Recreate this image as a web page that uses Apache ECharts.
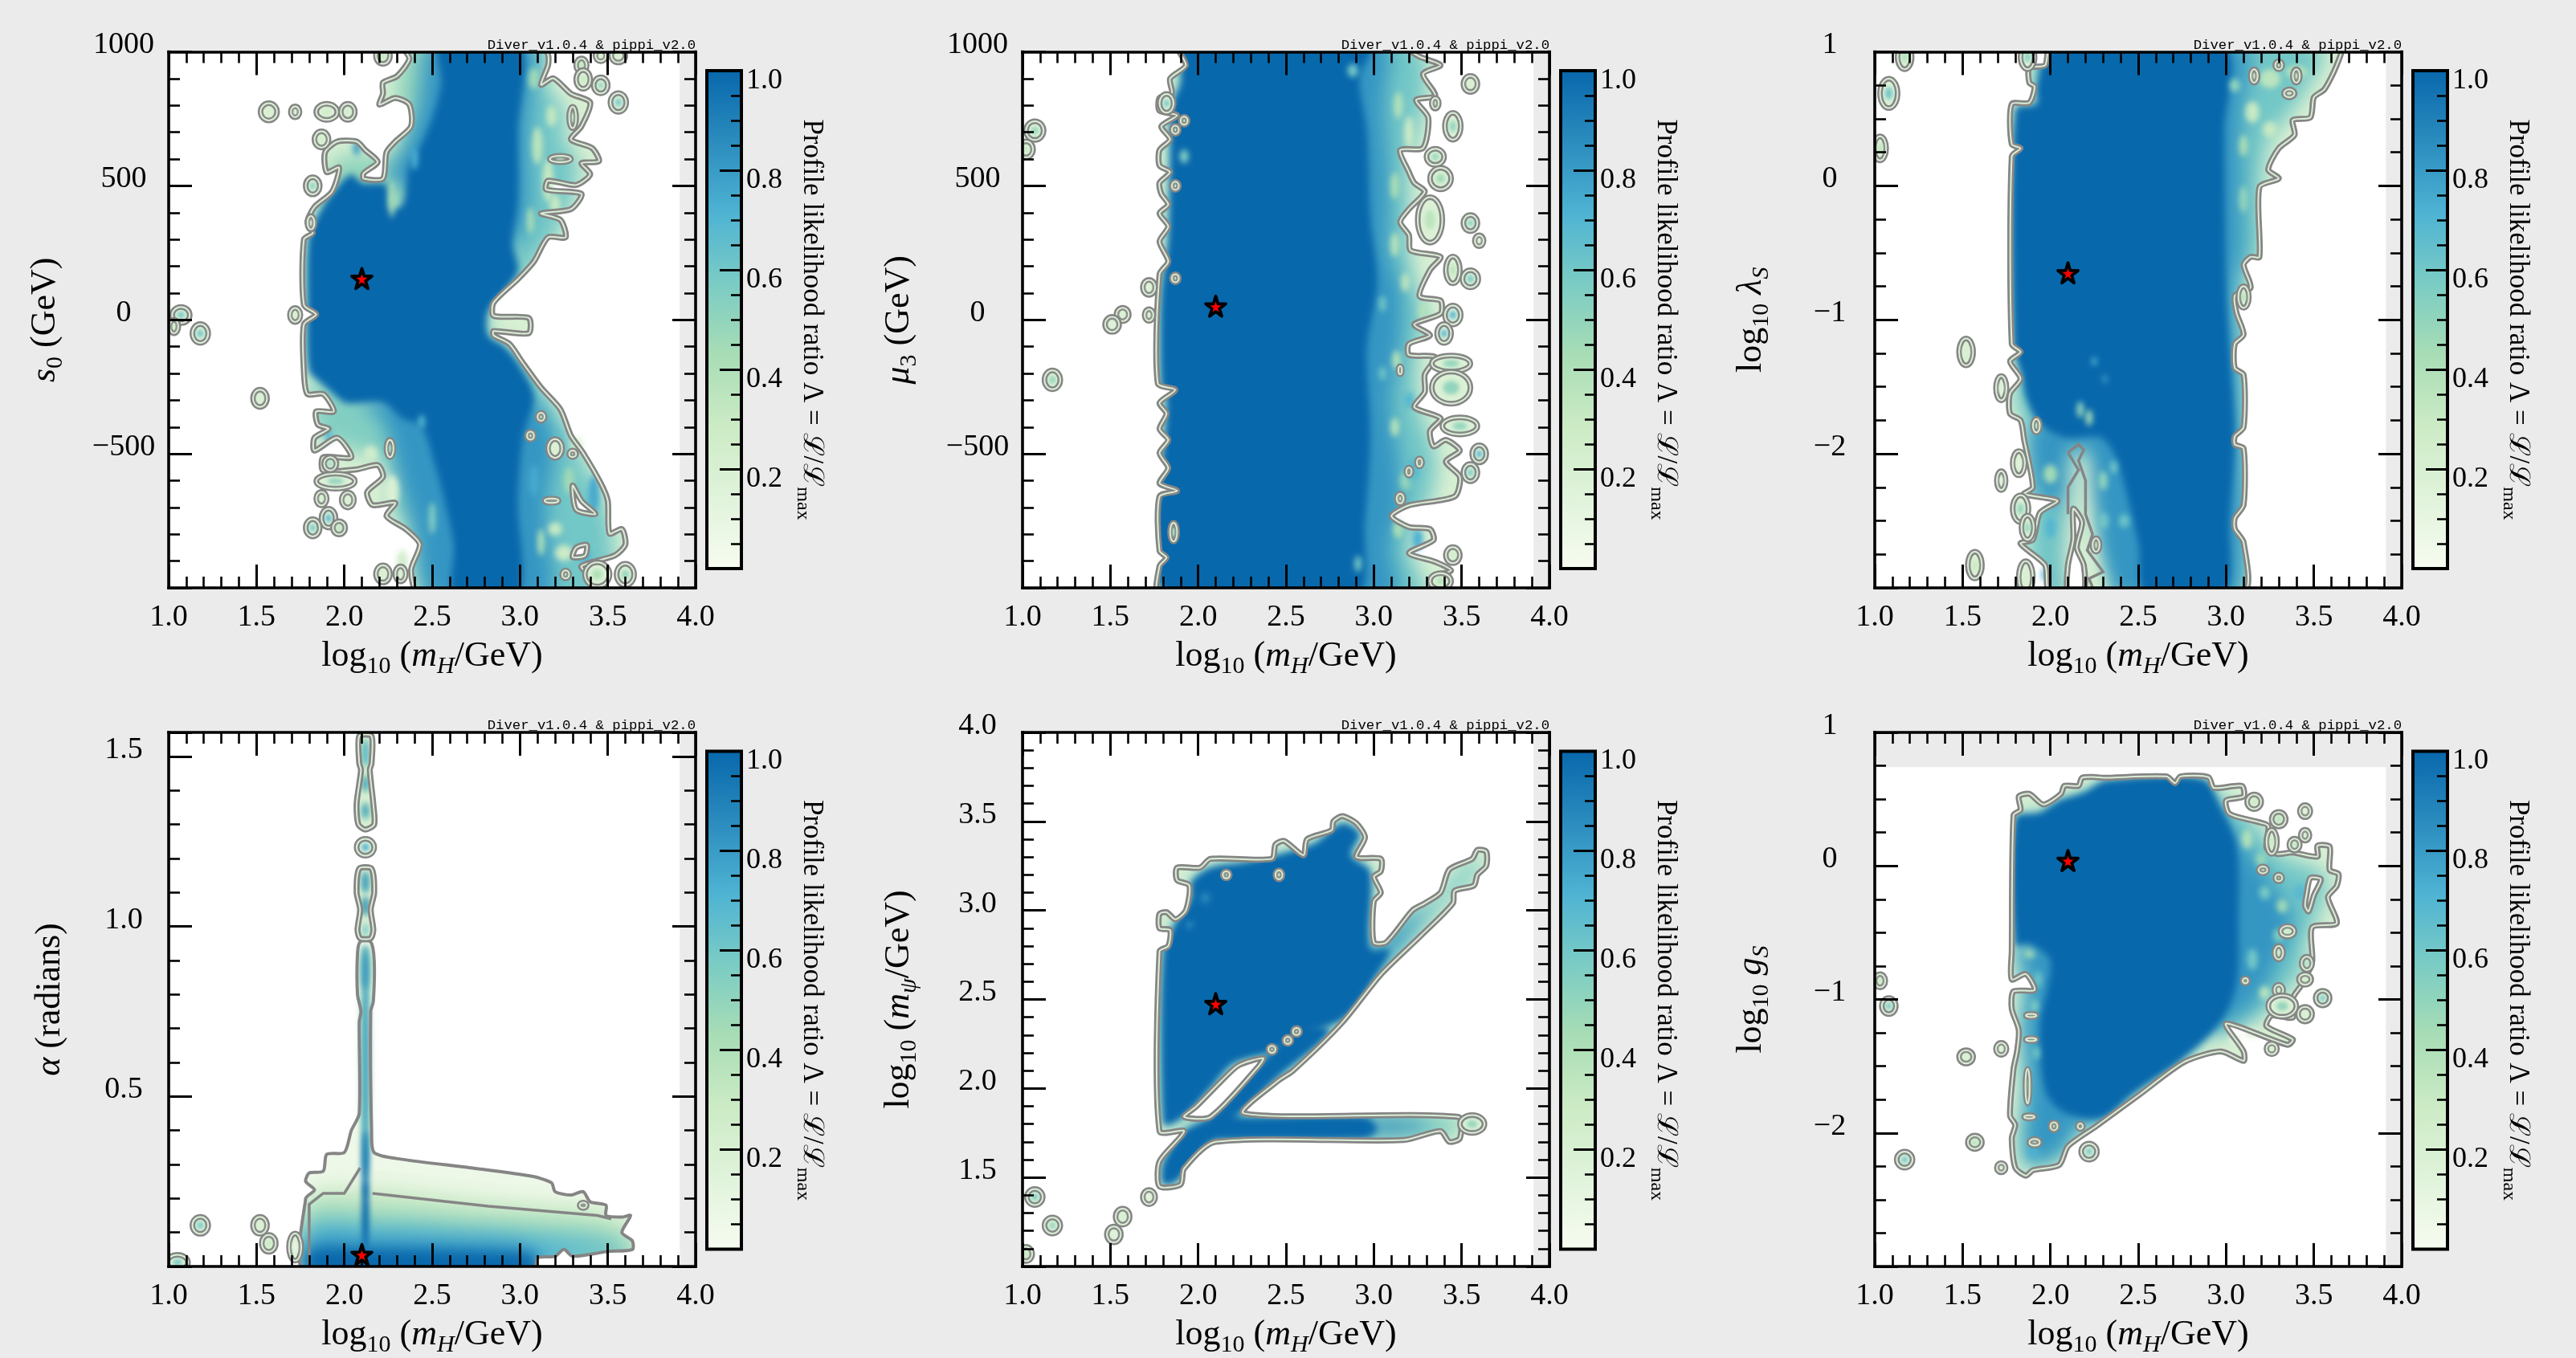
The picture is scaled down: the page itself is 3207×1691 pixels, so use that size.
<!DOCTYPE html>
<html><head><meta charset="utf-8">
<style>html,body{margin:0;padding:0;background:#ebebeb}#c{width:3207px;height:1691px}</style>
<script src="https://cdn.jsdelivr.net/npm/echarts@6/dist/echarts.min.js"></script>
</head><body><div id="c"></div>
<script>
const gnbu=['#f7fcf0','#e0f3db','#ccebc5','#a8ddb5','#7bccc4','#4eb3d3','#2b8cbe','#0868ac'];
const xTickLabels=['1.0','1.5','2.0','2.5','3.0','3.5','4.0'];
const barTickLabels=['','0.2','0.4','0.6','0.8','1.0'];
const watermark='Diver_v1.0.4 & pippi_v2.0';
const barTitle='Profile likelihood ratio Λ = ℒ/ℒ{sub|max}';
const xTitle='log{sub|10} ({i|m}{isub|H}/GeV)';

/* ---------- s0 ---------- */
const s0Best=[2.10,154];
const s0Ticks=['','−500','0','500','1000'];
const s0Outer=[[[2.33,1030],[2.37,974],[2.30,909],[2.22,885],[2.22,844],[2.20,803],[2.29,828],[2.37,803],[2.38,722],[2.29,665],[2.24,625],[2.22,527],[2.11,527],[2.11,547],[2.19,589],[2.12,633],[2.07,665],[1.96,665],[1.89,625],[1.90,551],[1.97,568],[1.93,478],[1.83,421],[1.79,365],[1.82,324],[1.77,300],[1.77,56],[1.84,20],[1.77,-17],[1.77,-196],[1.79,-277],[1.88,-277],[1.94,-342],[1.84,-342],[1.85,-391],[1.91,-407],[1.83,-440],[1.83,-488],[1.96,-440],[2.04,-513],[1.88,-513],[1.88,-562],[2.07,-558],[2.19,-542],[2.22,-586],[2.13,-643],[2.16,-691],[2.29,-683],[2.24,-732],[2.35,-781],[2.43,-838],[2.38,-935],[2.43,-1030],[3.40,-1030],[3.40,-960],[3.35,-919],[3.54,-879],[3.60,-838],[3.58,-781],[3.51,-797],[3.50,-675],[3.46,-610],[3.36,-497],[3.29,-432],[3.23,-334],[3.12,-253],[3.01,-155],[2.94,-90],[2.85,-58],[2.85,-42],[3.05,-50],[3.05,7],[2.85,15],[2.85,64],[2.99,153],[3.08,218],[3.16,308],[3.26,308],[3.23,373],[3.12,397],[3.29,413],[3.35,470],[3.15,486],[3.16,519],[3.32,503],[3.40,543],[3.35,584],[3.45,592],[3.41,641],[3.29,673],[3.35,722],[3.40,811],[3.29,844],[3.19,901],[3.12,877],[3.16,950],[3.16,990],[3.12,1030]]];
const s0Soft=[
[0.5,[[2.55,1030],[2.38,1030],[2.3,900],[2.3,800],[2.36,750],[2.28,620],[2.1,620],[1.95,600],[1.85,420],[2.3,400],[2.6,600]]],
[0.55,[[1.8,-250],[1.85,-420],[2.0,-480],[2.2,-520],[2.3,-620],[2.25,-680],[2.36,-780],[2.45,-1030],[2.7,-1030],[2.6,-400],[2.2,-280]]],
[0.6,[[3.0,1030],[3.14,1030],[3.14,880],[3.24,800],[3.26,650],[3.32,620],[3.32,500],[3.22,330],[3.1,220],[3.0,150],[2.92,150],[2.92,700]]],
[0.6,[[2.95,-100],[3.2,-330],[3.42,-600],[3.52,-780],[3.5,-1030],[2.95,-1030]]],
[0.82,[[2.47,1030],[2.42,800],[2.34,650],[2.25,520],[2.6,500],[2.6,1030]]],
[0.82,[[2.1,-300],[2.22,-380],[2.32,-620],[2.4,-800],[2.47,-1030],[2.7,-1030],[2.6,-400],[2.4,-300]]],
[0.82,[[2.95,-1030],[3.18,-1030],[3.15,-700],[3.2,-450],[3.08,-300],[2.95,-300]]],
[0.82,[[2.95,1030],[3.08,1030],[3.05,700],[3.05,400],[3.0,300],[2.9,300],[2.9,1030]]],
[1,[[2.54,1030],[2.55,885],[2.51,771],[2.44,657],[2.37,576],[2.33,430],[2.26,413],[2.24,503],[2.10,511],[2.04,543],[1.96,495],[1.87,413],[1.80,308],[1.79,56],[1.80,-188],[1.87,-237],[1.94,-277],[2.01,-310],[2.22,-310],[2.33,-367],[2.44,-399],[2.51,-529],[2.57,-675],[2.62,-838],[2.63,-1030],[2.99,-1030],[2.99,-675],[3.02,-432],[3.08,-285],[2.99,-163],[2.91,-98],[2.82,-58],[2.82,32],[2.93,121],[2.99,186],[2.96,283],[2.99,446],[2.99,706],[3.0,1030]]]];
const s0Spots=[[3.10,650,.03,70,.35],[3.16,520,.03,80,.3],[3.06,370,.02,50,.42],[3.2,430,.03,40,.3],[3.18,760,.03,40,.32],[3.08,900,.03,40,.45],[3.2,-780,.04,25,.3],[3.25,-870,.05,30,.28],[3.12,-830,.02,50,.4],[2.27,-640,.04,60,.18],[2.15,-500,.04,30,.25],[2.33,-900,.03,40,.25],[2.5,-740,.02,60,.55],[3.42,-650,.03,70,.75],[3.37,-880,.03,30,.72],[3.22,-470,.02,60,.65],[3.08,-600,.03,60,.75],[2.27,450,.015,70,.4],[2.44,-380,.02,25,.7],[2.4,600,.02,40,.72],[2.07,640,.02,25,.8],[3.28,-600,.03,50,.45],[1.91,-430,.02,30,.7],[3.32,-470,.03,30,.28]];
const s0Holes=[[[3.30,-618],[3.35,-675],[3.43,-724],[3.32,-708]],[[3.32,-850],[3.38,-840],[3.37,-880],[3.30,-885]]];
const s0Loops=[[1.57,776,.047,32,.2],[1.72,776,.025,20,.2],[1.90,776,.06,30,.25],[2.02,776,.04,30,.25],[1.87,673,.04,30,.25],[1.82,500,.04,32,.55],[1.81,362,.02,25,.2],[1.72,18,.03,26,.2],[1.07,18,.05,30,.6],[1.03,-25,.025,25,.3],[1.18,-51,.045,35,.6],[1.52,-293,.04,32,.2],[2.22,985,.04,30,.35],[3.56,811,.045,35,.6],[3.56,985,.04,25,.2],[3.46,985,.03,20,.2],[3.35,950,.03,25,.4],[3.46,875,.04,30,.5],[3.36,897,.04,35,.3],[2.26,-480,.02,32,.5],[1.91,-740,.04,35,.7],[1.82,-776,.04,32,.6],[1.97,-776,.035,25,.4],[1.87,-667,.03,25,.2],[2.02,-672,.035,28,.2],[1.95,-602,.11,28,.5],[1.92,-537,.035,25,.5],[2.22,-948,.04,32,.2],[2.32,-948,.03,28,.2],[3.44,-950,.07,45,.4],[3.60,-950,.05,40,.5],[3.26,-950,.02,15,.35],[3.12,-362,.02,15,.3],[3.06,-432,.02,15,.3],[3.2,-480,.04,35,.2],[3.3,-500,.02,12,.3],[3.18,-675,.04,8,.3],[3.23,600,.06,12,.4],[3.3,755,.02,40,.4]];

/* ---------- mu3 ---------- */
const muBest=[2.10,51];
const muTicks=['','−500','0','500','1000'];
const muOuter=[[[1.88,1030],[1.93,950],[1.84,900],[1.85,844],[1.78,828],[1.78,780],[1.88,763],[1.79,722],[1.84,673],[1.78,633],[1.78,576],[1.84,551],[1.78,511],[1.79,470],[1.83,430],[1.78,397],[1.83,348],[1.78,292],[1.83,218],[1.78,170],[1.77,-237],[1.87,-261],[1.78,-310],[1.82,-350],[1.78,-407],[1.83,-448],[1.78,-497],[1.83,-553],[1.78,-610],[1.88,-638],[1.78,-659],[1.78,-862],[1.82,-887],[1.78,-919],[1.78,-1030],[3.38,-1030],[3.35,-960],[3.44,-935],[3.35,-903],[3.2,-870],[3.34,-822],[3.32,-781],[3.2,-773],[3.1,-732],[3.2,-692],[3.46,-659],[3.49,-586],[3.41,-529],[3.49,-488],[3.41,-448],[3.34,-472],[3.32,-415],[3.38,-367],[3.23,-326],[3.29,-269],[3.29,-204],[3.35,-139],[3.2,-131],[3.2,-90],[3.32,-58],[3.23,-17],[3.38,23],[3.38,72],[3.26,88],[3.32,186],[3.38,235],[3.21,259],[3.2,316],[3.15,365],[3.2,413],[3.29,478],[3.23,511],[3.2,551],[3.15,633],[3.28,641],[3.31,755],[3.24,820],[3.35,836],[3.28,917],[3.38,950],[3.26,982],[3.12,1030]]];
const muSoft=[
[0.6,[[2.85,1030],[3.25,1030],[3.3,900],[3.25,700],[3.2,600],[3.2,400],[3.2,250],[3.25,100],[3.3,0],[3.25,-100],[3.25,-300],[3.35,-500],[3.35,-600],[3.3,-700],[3.2,-850],[3.3,-1030],[2.85,-1030]]],
[0.82,[[2.85,1030],[3.08,1030],[3.06,800],[3.09,500],[3.09,250],[3.16,100],[3.15,-100],[3.1,-300],[3.14,-500],[3.16,-700],[3.1,-850],[3.14,-1030],[2.85,-1030]]],
[1,[[1.92,1030],[1.90,885],[1.85,800],[1.84,600],[1.83,300],[1.79,100],[1.79,-250],[1.82,-300],[1.82,-1030],[2.9,-1030],[2.95,-757],[2.98,-432],[2.96,-105],[3.02,137],[2.98,381],[2.96,706],[2.92,900],[2.98,1030]]]];
const muSpots=[[3.14,800,.025,50,.38],[3.2,700,.025,60,.28],[3.12,500,.025,50,.42],[3.12,280,.025,45,.38],[3.18,140,.025,35,.35],[3.28,30,.025,35,.38],[3.13,-150,.025,35,.38],[3.12,-400,.025,35,.38],[3.18,-600,.03,35,.48],[3.22,-560,.04,40,.68],[3.14,-780,.03,35,.42],[3.25,-820,.03,40,.72],[2.88,930,.03,25,.6],[1.92,610,.025,25,.55],[3.05,-200,.02,25,.6],[3.2,-300,.03,30,.68],[2.91,-910,.02,30,.6],[3.05,60,.02,30,.6]];
const muHoles=[];
const muLoops=[[1.82,808,.04,35,.6],[1.92,743,.02,15,.4],[1.87,709,.02,15,.35],[1.87,500,.02,15,.35],[1.87,155,.02,15,.35],[1.86,-792,.02,35,.5],[1.07,706,.05,35,.5],[1.02,636,.04,30,.3],[1.72,121,.035,28,.15],[1.72,18,.025,22,.15],[1.57,20,.035,25,.2],[1.51,-17,.04,28,.15],[1.17,-224,.045,35,.5],[3.55,880,.04,30,.2],[3.35,808,.02,20,.35],[3.45,722,.045,50,.5],[3.35,608,.05,30,.5],[3.38,527,.06,40,.45],[3.32,373,.07,85,.35],[3.55,361,.04,30,.55],[3.6,295,.025,20,.1],[3.45,186,.04,50,.35],[3.55,153,.045,32,.6],[3.45,18,.045,35,.7],[3.4,-51,.04,35,.7],[3.44,-163,.11,30,.5],[3.44,-253,.11,60,.5],[3.49,-396,.1,32,.5],[3.6,-500,.04,32,.7],[3.55,-570,.04,32,.6],[3.45,-878,.04,30,.25],[3.38,-975,.06,30,.4],[3.15,-188,.01,15,.3],[3.2,-566,.015,15,.3],[3.26,-532,.015,15,.3],[3.15,-667,.02,18,.3]];

/* ---------- lambda_S ---------- */
const laBest=[2.10,-0.65];
const laTicks=['','−2','−1','0','1'];
const laOuter=[[[2.0,1.03],[1.97,.9],[1.88,.88],[1.88,.77],[1.91,.74],[1.88,.62],[1.78,.61],[1.78,.31],[1.83,.28],[1.78,.22],[1.78,-1.18],[1.83,-1.24],[1.77,-1.31],[1.83,-1.44],[1.77,-1.55],[1.77,-1.70],[1.83,-1.75],[1.85,-1.89],[1.9,-2.25],[1.85,-2.30],[2.04,-2.35],[1.94,-2.44],[1.9,-2.64],[1.83,-2.67],[1.97,-2.83],[2.0,-3.03],[3.1,-3.03],[3.1,-2.66],[3.05,-2.56],[3.05,-2.48],[3.1,-2.38],[3.1,-1.96],[3.05,-1.93],[3.05,-1.87],[3.1,-1.8],[3.1,-1.41],[3.05,-1.36],[3.05,-1.18],[3.1,-1.11],[3.06,-.95],[3.05,-.82],[3.14,-.76],[3.1,-.59],[3.14,-.53],[3.19,-.53],[3.19,-.01],[3.3,.055],[3.24,.12],[3.3,.28],[3.39,.38],[3.38,.49],[3.48,.51],[3.5,.66],[3.56,.72],[3.63,.9],[3.65,1.03]]];
const laSoft=[
[0.6,[[2.85,1.03],[3.55,1.03],[3.4,.6],[3.25,.35],[3.2,0],[3.2,-.5],[3.1,-.7],[3.1,-1.5],[3.1,-3.03],[2.85,-3.03]]],
[0.6,[[1.8,-1.5],[1.88,-1.9],[1.9,-3.03],[2.1,-3.03],[2.12,-2.2],[2.2,-2.0],[2.3,-2.0],[2.35,-3.03],[2.7,-3.03],[2.6,-1.8],[2.0,-1.5]]],
[0.6,[[1.9,.95],[1.93,.75],[2.05,.75],[2.05,1.03],[1.98,1.03]]],
[0.82,[[2.85,1.03],[3.12,1.03],[3.09,.5],[3.09,0],[3.09,-.5],[3.04,-.8],[3.07,-1.5],[3.08,-3.03],[2.85,-3.03]]],
[0.82,[[1.88,-1.85],[1.93,-2.3],[2.05,-2.4],[2.08,-2.8],[2.05,-3.03],[2.1,-3.03],[2.12,-2.0],[2.2,-1.95],[2.25,-2.4],[2.36,-3.03],[2.6,-3.03],[2.5,-1.8],[1.95,-1.75]]],
[0.2,[[2.13,-1.98],[2.18,-2.0],[2.16,-2.3],[2.2,-2.6],[2.28,-2.9],[2.3,-3.03],[2.1,-3.03],[2.1,-2.4],[2.12,-2.2]]],
[1,[[2.01,1.03],[1.92,.74],[1.92,.61],[1.80,.57],[1.79,-1.18],[1.84,-1.44],[1.85,-1.54],[1.9,-1.7],[1.97,-1.81],[2.1,-1.88],[2.29,-1.88],[2.38,-2.05],[2.5,-2.67],[2.54,-3.03],[2.99,-3.03],[3.02,-2.51],[3.05,-1.86],[3.02,-1.21],[3.0,-.72],[2.99,.41],[2.99,1.03]]]];
const laSpots=[[3.15,.55,.04,.08,.3],[3.25,.42,.04,.06,.3],[3.1,.3,.025,.08,.42],[3.05,.75,.03,.05,.5],[3.25,.8,.06,.07,.35],[3.4,.85,.06,.05,.38],[3.1,-.1,.025,.1,.5],[2.25,-1.31,.015,.03,.7],[2.31,-1.44,.012,.03,.75],[2.17,-1.67,.02,.06,.5],[2.22,-1.73,.02,.06,.45],[2.3,-2.2,.025,.07,.5],[2.36,-2.1,.02,.05,.6],[2.0,-2.15,.04,.07,.45],[2.3,-2.5,.03,.06,.6],[2.42,-2.5,.03,.05,.62],[2.0,-2.55,.03,.08,.7],[1.97,-2.9,.02,.05,.7]];
const laHoles=[[[2.13,-2.41],[2.18,-2.51],[2.15,-2.70],[2.19,-2.83],[2.19,-3.03],[2.1,-3.03],[2.1,-2.83],[2.13,-2.64]]];
const laLoops=[[1.17,.96,.04,.09,.4],[1.08,.69,.05,.11,.6],[1.03,.28,.035,.09,.35],[1.87,.96,.04,.09,.55],[1.52,-1.24,.04,.1,.2],[1.72,-1.51,.03,.09,.15],[1.82,-2.07,.035,.09,.15],[1.72,-2.2,.025,.07,.1],[1.83,-2.41,.045,.1,.5],[1.87,-2.55,.035,.09,.5],[1.57,-2.83,.04,.1,.3],[1.86,-2.92,.04,.12,.2],[3.1,-.83,.03,.08,.4],[2.26,-2.68,.02,.05,.3],[1.92,-1.79,.02,.05,.4],[3.16,.82,.02,.05,.3],[3.4,.82,.02,.05,.3],[3.36,.69,.03,.03,.3],[3.3,.9,.02,.03,.3]];
const laExtra=[[[2.1,-1.99],[2.16,-1.93],[2.19,-1.97],[2.16,-2.05],[2.2,-2.2],[2.2,-2.45],[2.24,-2.6],[2.21,-2.72],[2.3,-2.88],[2.22,-2.93],[2.25,-3.03]],[[2.1,-1.99],[2.16,-2.12],[2.1,-2.25],[2.1,-2.45]]];

/* ---------- alpha ---------- */
const alBest=[2.10,0.035];
const alTicks=['','0.5','1.0','1.5'];
const alOuter=[[[1.78,-.02],[1.78,.2],[1.83,.225],[1.78,.25],[1.8,.275],[1.88,.28],[1.9,.33],[2.0,.335],[2.04,.4],[2.085,.45],[2.085,.72],[2.095,.75],[2.075,.8],[2.075,.92],[2.09,.955],[2.15,.955],[2.17,.9],[2.165,.78],[2.15,.75],[2.155,.4],[2.17,.335],[2.33,.315],[2.72,.29],[3.07,.265],[3.18,.246],[3.2,.22],[3.29,.21],[3.36,.22],[3.4,.19],[3.49,.18],[3.49,.15],[3.58,.145],[3.63,.15],[3.58,.1],[3.64,.075],[3.64,.05],[3.5,.044],[3.3,.03],[3.25,.05],[3.2,.03],[3.1,.025],[3.08,-.02]],
[[2.085,1.17],[2.155,1.17],[2.17,1.1],[2.15,1.05],[2.165,.99],[2.15,.965],[2.09,.965],[2.075,.99],[2.09,1.05],[2.07,1.1]],
[[2.085,1.56],[2.155,1.56],[2.155,1.48],[2.145,1.46],[2.165,1.36],[2.17,1.30],[2.12,1.285],[2.08,1.30],[2.07,1.36],[2.095,1.46],[2.085,1.48]]];
const alSoft=[
[0.22,[[1.8,.21],[2.1,.23],[2.17,.24],[2.8,.2],[3.2,.18],[3.5,.17],[3.65,.12],[3.7,-.02],[1.8,-.02]]],
[0.35,[[1.8,.19],[2.1,.2],[2.8,.165],[3.44,.14],[3.6,.1],[3.6,-.02],[1.8,-.02]]],
[0.55,[[1.8,.15],[2.1,.15],[2.8,.125],[3.4,.1],[3.6,.06],[3.6,-.02],[1.8,-.02]]],
[0.72,[[1.8,.105],[2.1,.11],[2.8,.09],[3.2,.075],[3.55,.065],[3.6,.05],[3.3,.03],[3.1,-.02],[1.8,-.02]]],
[0.86,[[1.8,.07],[2.1,.07],[2.8,.06],[3.05,.045],[3.08,-.02],[1.8,-.02]]],
[1,[[1.8,.045],[2.1,.05],[2.9,.04],[3.08,.03],[3.08,-.02],[1.8,-.02]]]];
const alSpots=[[2.12,.6,.03,.34,.5],[2.12,.88,.032,.065,.5],[2.12,.6,.014,.32,.82],[2.12,.88,.014,.065,.85],[2.12,.3,.02,.1,.92],[2.12,.15,.02,.1,1],[2.12,1.13,.028,.03,.5],[2.12,1.06,.028,.028,.5],[2.12,1.13,.014,.032,.85],[2.12,1.06,.014,.028,.88],[2.12,.99,.015,.02,.6],[2.12,1.51,.028,.04,.45],[2.12,1.42,.028,.026,.45],[2.12,1.34,.028,.026,.45],[2.12,1.51,.014,.04,.72],[2.12,1.42,.014,.022,.8],[2.12,1.34,.014,.022,.8]];
const alHoles=[];
const alLoops=[[2.12,1.233,.05,.025,.72],[1.18,.121,.045,.025,.6],[1.52,.121,.04,.025,.2],[1.57,.068,.04,.025,.3],[1.72,.057,.035,.04,.1],[1.05,.012,.06,.022,.6],[3.36,.18,.02,.008,.1]];
const alInner=[[[1.8,-.02],[1.8,.183],[1.88,.215],[2.0,.215],[2.09,.29]],[[2.16,.215],[2.82,.177],[3.44,.15],[3.52,.14]]];

/* ---------- m_psi ---------- */
const psBest=[2.10,2.476];
const psTicks=['','1.5','2.0','2.5','3.0','3.5','4.0'];
const psOuter=[[[1.78,2.77],[1.83,2.80],[1.84,2.89],[1.78,2.90],[1.78,2.98],[1.82,2.99],[1.87,2.95],[1.93,3.0],[1.95,3.14],[1.88,3.17],[1.88,3.24],[2.01,3.24],[2.07,3.29],[2.42,3.29],[2.44,3.37],[2.49,3.39],[2.60,3.31],[2.62,3.4],[2.76,3.45],[2.77,3.5],[2.82,3.53],[2.9,3.49],[2.95,3.41],[2.9,3.30],[3.04,3.29],[3.04,3.22],[3.0,3.19],[3.04,3.1],[3.0,3.05],[3.0,2.82],[3.07,2.82],[3.22,3.0],[3.29,3.04],[3.38,3.1],[3.43,3.23],[3.56,3.29],[3.59,3.34],[3.64,3.33],[3.64,3.25],[3.59,3.2],[3.57,3.14],[3.46,3.11],[3.45,3.04],[3.27,2.86],[3.04,2.64],[2.82,2.37],[2.54,2.10],[2.45,2.04],[2.26,1.86],[3.48,1.84],[3.49,1.72],[3.43,1.70],[3.38,1.76],[3.17,1.71],[2.1,1.70],[1.92,1.55],[1.9,1.46],[1.78,1.45],[1.78,1.59],[1.92,1.76],[1.78,1.76]]];
const psSoft=[
[0.6,[[3.0,2.8],[3.2,2.98],[3.4,3.12],[3.5,3.24],[3.62,3.31],[3.55,3.17],[3.42,3.05],[3.25,2.88],[3.05,2.66]]],
[0.85,[[3.0,2.76],[3.15,2.9],[3.3,3.02],[3.1,2.76]]],
[0.55,[[3.0,1.85],[3.47,1.84],[3.47,1.74],[3.0,1.72]]],
[0.85,[[2.9,1.82],[3.3,1.81],[3.3,1.77],[2.9,1.75]]],
[1,[[1.80,2.75],[1.87,2.93],[1.96,3.07],[1.96,3.16],[2.07,3.24],[2.26,3.27],[2.48,3.32],[2.67,3.38],[2.82,3.49],[2.92,3.43],[2.87,3.31],[2.98,3.22],[2.98,2.79],[3.09,2.78],[3.02,2.64],[2.84,2.40],[2.63,2.31],[2.4,2.2],[2.2,2.14],[2.07,2.0],[1.95,1.87],[1.85,1.8],[1.80,1.8]]],
[1,[[1.80,1.46],[1.80,1.58],[1.92,1.76],[2.08,1.85],[2.37,2.16],[2.6,2.35],[2.75,2.32],[2.44,2.05],[2.24,1.86],[2.2,1.84],[2.95,1.84],[3.02,1.77],[2.95,1.72],[2.2,1.71],[2.08,1.7],[1.95,1.56],[1.88,1.48]]]];
const psSpots=[[2.04,3.07,.03,.03,.88],[1.95,2.92,.02,.02,.85]];
const psHoles=[[[1.92,1.84],[2.07,1.84],[2.34,2.12],[2.37,2.17],[2.23,2.13],[2.13,2.04],[1.99,1.9]]];
const psLoops=[[1.07,1.39,.045,.045,.6],[1.17,1.23,.045,.045,.5],[1.02,1.07,.035,.04,.35],[1.57,1.28,.04,.045,.2],[1.52,1.18,.04,.045,.15],[1.72,1.39,.035,.04,.1],[3.56,1.8,.07,.05,.5],[2.46,3.2,.02,.025,.35],[2.16,3.2,.02,.02,.4],[2.42,2.22,.02,.02,.35],[2.51,2.27,.02,.02,.35],[2.56,2.32,.02,.02,.35]];

/* ---------- g_S ---------- */
const gsBest=[2.10,0.04];
const gsTicks=['','−2','−1','0','1'];
const gsOuter=[[[1.79,.38],[1.83,.42],[1.82,.52],[1.88,.54],[1.96,.46],[2.06,.54],[2.08,.6],[2.16,.6],[2.18,.66],[2.26,.665],[2.3,.66],[2.66,.67],[2.71,.62],[2.74,.67],[2.9,.665],[2.93,.585],[3.09,.6],[3.1,.52],[3.0,.49],[3.02,.39],[3.18,.33],[3.24,.3],[3.23,.135],[3.29,.09],[3.38,.10],[3.52,.07],[3.52,.15],[3.59,.145],[3.59,-.03],[3.64,-.06],[3.63,-.15],[3.58,-.235],[3.63,-.43],[3.49,-.46],[3.49,-.72],[3.43,-.89],[3.38,-.99],[3.38,-1.135],[3.26,-1.12],[3.23,-1.2],[3.38,-1.3],[3.35,-1.34],[3.0,-1.18],[3.1,-1.39],[3.1,-1.46],[2.97,-1.39],[2.76,-1.47],[2.51,-1.71],[2.26,-1.95],[2.1,-2.1],[2.05,-2.24],[1.9,-2.28],[1.86,-2.32],[1.8,-2.26],[1.78,-2.04],[1.8,-1.94],[1.77,-1.87],[1.79,-1.52],[1.81,-1.39],[1.82,-1.23],[1.78,-1.07],[1.79,-.94],[1.91,-.93],[1.86,-.81],[1.78,-.85],[1.78,-.64]]];
const gsSoft=[
[0.6,[[2.9,.5],[3.18,.3],[3.28,.1],[3.48,0],[3.58,-.1],[3.53,-.35],[3.45,-.6],[3.45,-.75],[3.33,-.95],[3.22,-1.1],[3.0,-1.25],[2.9,-1.2]]],
[0.6,[[1.8,-.6],[1.85,-.9],[1.83,-1.2],[1.86,-1.6],[1.84,-2.25],[2.05,-2.2],[2.15,-2.0],[2.4,-1.75],[2.2,-1.5],[2.0,-.7]]],
[0.82,[[2.9,.45],[3.08,.2],[3.25,-.1],[3.38,-.4],[3.3,-.7],[3.18,-1.0],[3.02,-1.17],[2.9,-1.2]]],
[0.82,[[1.83,-.6],[1.88,-.9],[1.86,-1.2],[1.88,-1.6],[1.88,-2.2],[2.05,-2.15],[2.15,-1.95],[2.3,-1.85],[2.2,-1.4],[2.05,-.6]]],
[1,[[1.80,.36],[1.94,.4],[2.05,.49],[2.19,.55],[2.32,.64],[2.87,.65],[2.97,.44],[3.06,.15],[3.07,-.43],[3.06,-.88],[2.97,-1.17],[2.76,-1.44],[2.48,-1.70],[2.29,-1.89],[2.07,-1.84],[1.97,-1.68],[1.94,-1.2],[2.0,-.72],[1.88,-.59],[1.80,-.59]]]];
const gsSpots=[[1.88,-.66,.03,.03,.45],[1.93,-.85,.02,.06,.6],[1.91,-1.05,.02,.05,.55],[1.92,-1.4,.02,.05,.6],[3.12,.2,.03,.07,.38],[3.2,.05,.03,.05,.48],[3.22,-.2,.03,.05,.58],[3.32,-.3,.03,.05,.45],[3.15,-.7,.03,.08,.6],[3.22,-.95,.03,.05,.35],[3.42,-.2,.04,.06,.68],[3.3,-.52,.03,.05,.55],[3.05,-1.3,.03,.04,.12],[3.15,-1.25,.04,.03,.2],[1.9,-2.15,.03,.04,.72]];
const gsHoles=[[[3.48,-.09],[3.54,-.1],[3.5,-.22],[3.47,-.34],[3.45,-.3],[3.46,-.2]]];
const gsLoops=[[1.03,-.86,.03,.05,.35],[1.08,-1.05,.04,.06,.6],[1.17,-2.2,.045,.06,.6],[1.52,-1.43,.04,.05,.2],[1.72,-1.37,.03,.045,.15],[1.57,-2.07,.04,.05,.4],[1.72,-2.26,.025,.035,.1],[2.22,-2.14,.045,.06,.6],[3.16,.48,.04,.055,.3],[3.3,.35,.04,.055,.4],[3.45,.41,.03,.045,.1],[3.45,.23,.025,.04,.3],[3.39,.16,.03,.045,.4],[3.26,.18,.03,.09,.3],[3.21,-.03,.025,.025,.35],[3.3,-.09,.02,.025,.35],[3.55,-.99,.04,.055,.6],[3.45,-1.11,.04,.055,.2],[3.26,-1.37,.03,.04,.15],[3.46,-.73,.03,.05,.5],[3.45,-.85,.035,.04,.3],[3.3,-.93,.025,.04,.35],[3.11,-.86,.015,.02,.35],[3.32,-1.05,.08,.08,.5],[3.3,-.65,.025,.05,.4],[3.35,-.49,.04,.04,.35],[1.91,-2.07,.03,.025,.35],[2.02,-1.95,.02,.03,.4],[2.17,-1.95,.015,.02,.4],[1.87,-1.65,.012,.13,.4],[1.88,-1.88,.03,.012,.3],[1.89,-1.12,.03,.012,.3],[1.89,-1.3,.03,.012,.3]];

/* ---------- panels ---------- */
const F='"Liberation Serif","DejaVu Serif",serif';
const panels=[
{col:0,row:0,ymin:-1000,ymax:1000,yi:500,ysplit:5,ticks:s0Ticks,name:'{i|s}{sub|0} (GeV)',best:s0Best,outer:s0Outer,soft:s0Soft,spots:s0Spots,holes:s0Holes,loops:s0Loops},
{col:1,row:0,ymin:-1000,ymax:1000,yi:500,ysplit:5,ticks:muTicks,name:'{i|μ}{sub|3} (GeV)',best:muBest,outer:muOuter,soft:muSoft,spots:muSpots,holes:muHoles,loops:muLoops},
{col:2,row:0,ymin:-3,ymax:1,yi:1,ysplit:4,ticks:laTicks,name:'log{sub|10} {i|λ}{isub|S}',best:laBest,outer:laOuter,soft:laSoft,spots:laSpots,holes:laHoles,loops:laLoops,lines:laExtra},
{col:0,row:1,ymin:0,ymax:1.5708,yi:.5,ysplit:5,ticks:alTicks,name:'{i|α} (radians)',best:alBest,outer:alOuter,soft:alSoft,spots:alSpots,holes:alHoles,loops:alLoops,lines:alInner,fill:.05,blur:30,coreBlur:16,noUnder:true,thin:true},
{col:1,row:1,ymin:1,ymax:4,yi:.5,ysplit:5,ticks:psTicks,name:'log{sub|10} ({i|m}{isub|ψ}/GeV)',best:psBest,outer:psOuter,soft:psSoft,spots:psSpots,holes:psHoles,loops:psLoops},
{col:2,row:1,ymin:-3,ymax:1,yi:1,ysplit:4,ticks:gsTicks,name:'log{sub|10} {i|g}{isub|S}',best:gsBest,outer:gsOuter,soft:gsSoft,spots:gsSpots,holes:gsHoles,loops:gsLoops,whiteTop:.74}
];
const colLeft=[210,1273,2334], rowTop=[64.5,912], PW=656, PH=[667.5,668];
const whiteRight=3.91;

function hex(c){return [1,3,5].map(i=>parseInt(c.substr(i,2),16));}
function lvl(v){v=Math.max(0,Math.min(1,v))*(gnbu.length-1);const i=Math.min(gnbu.length-2,Math.floor(v)),t=v-i;const a=hex(gnbu[i]),b=hex(gnbu[i+1]);return 'rgb('+a.map((x,k)=>Math.round(x+(b[k]-x)*t)).join(',')+')';}

const grey='#858585',pale='#dbeed6';
const rich={
 sub:{fontFamily:F,fontSize:30,verticalAlign:'bottom',lineHeight:56},
 isub:{fontFamily:F,fontSize:30,fontStyle:'italic',verticalAlign:'bottom',lineHeight:56},
 i:{fontFamily:F,fontSize:44,fontStyle:'italic'}
};
const rich2={sub:{fontFamily:F,fontSize:24,verticalAlign:'bottom',lineHeight:46}};
const OFF=6000;

function buildItems(p){
 const it=[{k:'white'}];
 const fillLv=p.fill===undefined?.2:p.fill;
 p.outer.forEach((o,i)=>it.push({k:'fill',pts:o,lv:i===0?fillLv:.2}));
 if(!p.noUnder)p.soft.forEach(s=>{if(s[0]===1)it.push({k:'soft',lv:.6,pts:s[1],blur:24});});
 p.soft.forEach(s=>it.push({k:'soft',lv:s[0],pts:s[1]}));
 p.spots.forEach(s=>it.push({k:'spot',s}));
 (p.holes||[]).forEach(h=>it.push({k:'hole',pts:h}));
 p.outer.forEach((o,i)=>{const thin=p.thin&&i===0;it.push({k:'line',pts:o,w:thin?4:7.5,c:grey});if(!thin)it.push({k:'line',pts:o,w:2,c:pale});});
 (p.holes||[]).forEach(h=>{it.push({k:'line',pts:h,w:7.5,c:grey});it.push({k:'line',pts:h,w:2,c:pale});});
 (p.lines||[]).forEach(l=>it.push({k:'open',pts:l}));
 p.loops.forEach(s=>{it.push({k:'loop',s});it.push({k:'loopIn',s});});
 return it;
}
function ell(api,s){const c=api.coord([s[0],s[1]]),d=api.coord([s[0]+s[2],s[1]+s[3]]);return {cx:c[0],cy:c[1],rx:Math.abs(d[0]-c[0]),ry:Math.abs(d[1]-c[1])};}
function makeRender(p,items){
 const blur=p.blur||24,coreBlur=p.coreBlur||9;
 return function(params,api){
  const it=items[params.dataIndex],z2=params.dataIndex;
  const px=a=>a.map(q=>api.coord(q));
  switch(it.k){
   case 'white':{const a=api.coord([1,p.whiteTop===undefined?p.ymax:p.whiteTop]),b=api.coord([whiteRight,p.ymin]);
     return {type:'rect',z2,shape:{x:a[0],y:a[1],width:b[0]-a[0],height:b[1]-a[1]},style:{fill:'#fff'}};}
   case 'fill':return {type:'polygon',z2,shape:{points:px(it.pts),smooth:.25},style:{fill:lvl(it.lv)}};
   case 'soft':{const clip={type:'polygon',shape:{points:px(p.outer[0]),smooth:.25}};
     return {type:'polygon',z2,clipPath:clip,shape:{points:px(it.pts).map(q=>[q[0]-OFF,q[1]]),smooth:.3},
       style:{fill:'#000',shadowBlur:it.blur||(it.lv===1?coreBlur:blur),shadowColor:lvl(it.lv),shadowOffsetX:OFF}};}
   case 'spot':{const e=ell(api,it.s);e.cx-=OFF;return {type:'ellipse',z2,shape:e,style:{fill:'#000',shadowBlur:7,shadowColor:lvl(it.s[4]),shadowOffsetX:OFF}};}
   case 'hole':return {type:'polygon',z2,shape:{points:px(it.pts),smooth:.2},style:{fill:'#fff'}};
   case 'line':return {type:'polygon',z2,shape:{points:px(it.pts),smooth:.25},style:{fill:'none',stroke:it.c,lineWidth:it.w,lineJoin:'round'}};
   case 'open':return {type:'polyline',z2,shape:{points:px(it.pts)},style:{fill:'none',stroke:grey,lineWidth:3.5}};
   case 'loop':{const e=ell(api,it.s);return {type:'group',z2,children:[
      {type:'ellipse',z2,shape:e,style:{fill:lvl(.18),stroke:grey,lineWidth:7}},
      {type:'ellipse',z2,shape:e,style:{fill:'none',stroke:pale,lineWidth:2}}]};}
   case 'loopIn':{const e=ell(api,it.s);e.rx*=.42;e.ry*=.42;e.cx-=OFF;return {type:'ellipse',z2,shape:e,style:{fill:'#000',shadowBlur:5,shadowColor:lvl(it.s[4]),shadowOffsetX:OFF}};}
  }
 };
}
const stops=gnbu.map((c,i)=>({offset:i/(gnbu.length-1),color:c}));
const grids=[],xAxes=[],yAxes=[],series=[],titles=[];
const tickSty={lineStyle:{color:'#000',width:3}},minorSty={lineStyle:{color:'#000',width:2.6}};
const lineSty={show:true,onZero:false,lineStyle:{color:'#000',width:3.6,cap:'square'}};
panels.forEach(p=>{
 const L=colLeft[p.col],T=rowTop[p.row],H=PH[p.row];
 const g=grids.length;
 grids.push({left:L,top:T,width:PW,height:H});
 const xb=xAxes.length;
 const xbase={type:'value',gridIndex:g,min:1,max:4,interval:.5,z:10,axisLine:lineSty,splitLine:{show:false},
   axisTick:{show:true,inside:true,length:29,...tickSty},minorTick:{show:true,splitNumber:5,length:14,...minorSty}};
 xAxes.push({...xbase,position:'bottom',
   axisLabel:{show:true,margin:18,color:'#000',fontFamily:F,fontSize:38,formatter:(v)=>xTickLabels[Math.round((v-1)/.5)]},
   name:xTitle,nameLocation:'middle',nameGap:57,nameTextStyle:{color:'#000',fontFamily:F,fontSize:44,rich}});
 xAxes.push({...xbase,position:'top',axisLabel:{show:false}});
 const yb=yAxes.length;
 const ybase={type:'value',gridIndex:g,min:p.ymin,max:p.ymax,interval:p.yi,z:10,axisLine:lineSty,splitLine:{show:false},
   axisTick:{show:true,inside:true,length:29,...tickSty},minorTick:{show:true,splitNumber:p.ysplit,length:14,...minorSty}};
 yAxes.push({...ybase,position:'left',
   axisLabel:{show:true,margin:56,align:'center',verticalAlign:'bottom',lineHeight:16,color:'#000',fontFamily:F,fontSize:38,
     formatter:(v)=>p.ticks[Math.round((v-p.ymin)/p.yi)]||''},
   name:p.name,nameLocation:'middle',nameRotate:90,nameGap:126,nameTextStyle:{color:'#000',fontFamily:F,fontSize:44,rich}});
 yAxes.push({...ybase,position:'right',axisLabel:{show:false}});
 const items=buildItems(p);
 series.push({type:'custom',xAxisIndex:xb,yAxisIndex:yb,coordinateSystem:'cartesian2d',clip:true,silent:true,animation:false,z:2,
   data:items.map((_,i)=>[i]),renderItem:makeRender(p,items)});
 series.push({type:'scatter',xAxisIndex:xb,yAxisIndex:yb,clip:false,silent:true,animation:false,z:20,
   symbol:'path://M50,0 L61,35 98,35 68,57 79,91 50,70 21,91 32,57 2,35 39,35 Z',symbolSize:25,
   itemStyle:{color:'#ff0000',borderColor:'#000',borderWidth:3.8,borderJoin:'round',opacity:1},data:[p.best]});
 /* colour bar */
 const bt=T+23.5,bh=620,bl=L+PW+14,bw=43;
 const gb=grids.length;
 grids.push({left:bl,top:bt,width:bw,height:bh});
 const xc=xAxes.length;
 xAxes.push({type:'value',gridIndex:gb,min:0,max:1,show:false});
 const yc=yAxes.length;
 yAxes.push({type:'value',gridIndex:gb,min:0,max:1,interval:.2,position:'right',z:10,splitLine:{show:false},
   axisLine:{show:false,onZero:false},
   axisTick:{show:true,inside:true,length:27,...tickSty},minorTick:{show:true,splitNumber:4,length:13,...minorSty},
   axisLabel:{show:true,margin:6,align:'left',verticalAlign:'top',lineHeight:25,color:'#000',fontFamily:F,fontSize:36,
     formatter:(v)=>barTickLabels[Math.round(v/.2)]},
   name:barTitle,nameLocation:'middle',nameRotate:-90,nameGap:64,nameTextStyle:{color:'#000',fontFamily:F,fontSize:35,rich:rich2}});
 series.push({type:'custom',xAxisIndex:xc,yAxisIndex:yc,coordinateSystem:'cartesian2d',silent:true,animation:false,z:2,data:[[0,0]],
   renderItem:(params,api)=>{const a=api.coord([0,1]),b=api.coord([1,0]);const sh={x:a[0],y:a[1],width:b[0]-a[0],height:b[1]-a[1]};
     return {type:'group',children:[
      {type:'rect',z2:1,shape:sh,style:{fill:new echarts.graphic.LinearGradient(0,1,0,0,stops)}},
      {type:'rect',z2:2,shape:sh,style:{fill:'none',stroke:'#000',lineWidth:4}}]};}});
 titles.push({text:watermark,left:L+PW-5,top:T-22,textAlign:'right',textStyle:{fontFamily:'"Liberation Mono",monospace',fontSize:17.3,fontWeight:'normal',color:'#000'}});
});
const chart=echarts.init(document.getElementById('c'),null,{renderer:'canvas',width:3207,height:1691});
chart.setOption({backgroundColor:'#ebebeb',animation:false,title:titles,tooltip:{show:false},grid:grids,xAxis:xAxes,yAxis:yAxes,series});
</script></body></html>
